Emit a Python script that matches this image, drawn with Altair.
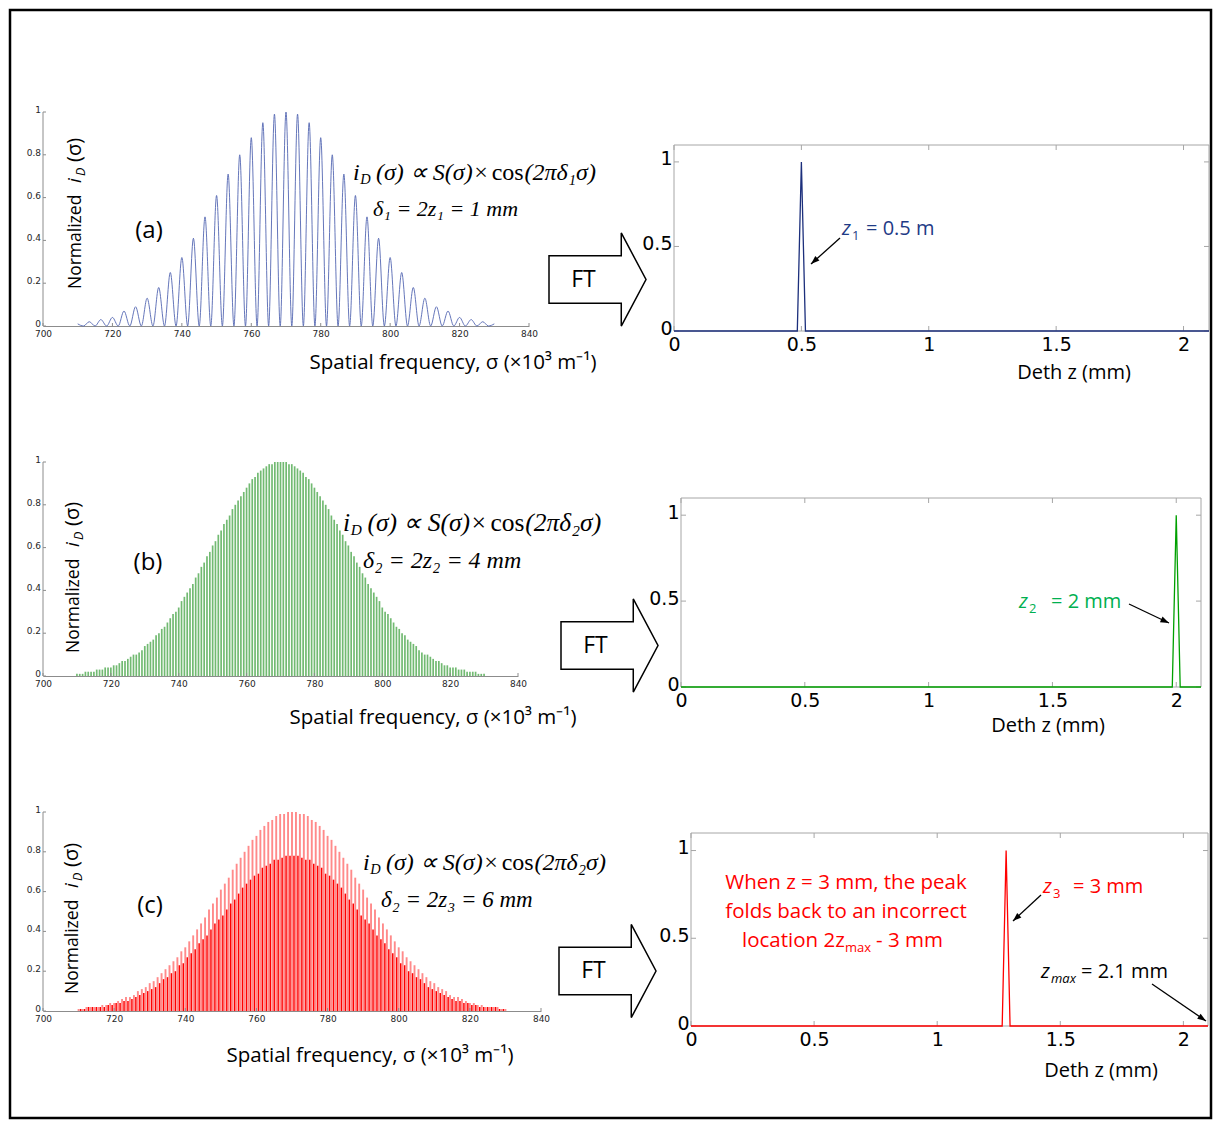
import altair as alt
import pandas as pd

# ---------------- data ----------------
sigma_ticks = [700, 720, 740, 760, 780, 800, 820, 840]
intensity_ticks = [0, 0.2, 0.4, 0.6, 0.8, 1]
intensity_labels = ["0", "0.2", "0.4", "0.6", "0.8", "1"]
depth_ticks = [0, 0.5, 1, 1.5, 2]
amp_ticks = [0, 0.5, 1]

# (a) delta = 1 mm : fringe peaks and troughs
a_sigma = [710.0, 711.67, 713.33, 715.0, 716.67, 718.33, 720.0, 721.67, 723.33, 725.0,
           726.67, 728.33, 730.0, 731.67, 733.33, 735.0, 736.67, 738.33, 740.0, 741.67,
           743.33, 745.0, 746.67, 748.33, 750.0, 751.67, 753.33, 755.0, 756.67, 758.33,
           760.0, 761.67, 763.33, 765.0, 766.67, 768.33, 770.0, 771.67, 773.33, 775.0,
           776.67, 778.33, 780.0, 781.67, 783.33, 785.0, 786.67, 788.33, 790.0, 791.67,
           793.33, 795.0, 796.67, 798.33, 800.0, 801.67, 803.33, 805.0, 806.67, 808.33,
           810.0, 811.67, 813.33, 815.0, 816.67, 818.33, 820.0, 821.67, 823.33, 825.0,
           826.67, 828.33, 830.0]
a_intensity = [0.01, 0, 0.02, 0, 0.03, 0, 0.04, 0, 0.07, 0, 0.09, 0, 0.13, 0, 0.18, 0,
               0.25, 0, 0.32, 0, 0.41, 0, 0.51, 0, 0.61, 0, 0.71, 0, 0.80, 0, 0.88, 0,
               0.95, 0, 0.99, 0, 1.00, 0, 0.99, 0, 0.95, 0, 0.88, 0, 0.80, 0, 0.71, 0,
               0.61, 0, 0.51, 0, 0.41, 0, 0.32, 0, 0.25, 0, 0.18, 0, 0.13, 0, 0.09, 0,
               0.07, 0, 0.04, 0, 0.03, 0, 0.02, 0, 0.01]

# (b) delta = 4 mm : fringe peaks
b_peak_sigma = [
    710.0, 710.83, 711.67, 712.5, 713.33, 714.17, 715.0, 715.83, 716.67, 717.5, 718.33, 719.17,
    720.0, 720.83, 721.67, 722.5, 723.33, 724.17, 725.0, 725.83, 726.67, 727.5, 728.33, 729.17,
    730.0, 730.83, 731.67, 732.5, 733.33, 734.17, 735.0, 735.83, 736.67, 737.5, 738.33, 739.17,
    740.0, 740.83, 741.67, 742.5, 743.33, 744.17, 745.0, 745.83, 746.67, 747.5, 748.33, 749.17,
    750.0, 750.83, 751.67, 752.5, 753.33, 754.17, 755.0, 755.83, 756.67, 757.5, 758.33, 759.17,
    760.0, 760.83, 761.67, 762.5, 763.33, 764.17, 765.0, 765.83, 766.67, 767.5, 768.33, 769.17,
    770.0, 770.83, 771.67, 772.5, 773.33, 774.17, 775.0, 775.83, 776.67, 777.5, 778.33, 779.17,
    780.0, 780.83, 781.67, 782.5, 783.33, 784.17, 785.0, 785.83, 786.67, 787.5, 788.33, 789.17,
    790.0, 790.83, 791.67, 792.5, 793.33, 794.17, 795.0, 795.83, 796.67, 797.5, 798.33, 799.17,
    800.0, 800.83, 801.67, 802.5, 803.33, 804.17, 805.0, 805.83, 806.67, 807.5, 808.33, 809.17,
    810.0, 810.83, 811.67, 812.5, 813.33, 814.17, 815.0, 815.83, 816.67, 817.5, 818.33, 819.17,
    820.0, 820.83, 821.67, 822.5, 823.33, 824.17, 825.0, 825.83, 826.67, 827.5, 828.33, 829.17,
    830.0]
b_peak_height = [
    0.01, 0.01, 0.01, 0.02, 0.02, 0.02, 0.02, 0.03, 0.03, 0.03, 0.04, 0.04,
    0.04, 0.05, 0.05, 0.06, 0.07, 0.07, 0.08, 0.09, 0.10, 0.10, 0.11, 0.12,
    0.14, 0.15, 0.16, 0.17, 0.19, 0.20, 0.22, 0.23, 0.25, 0.27, 0.29, 0.30,
    0.32, 0.35, 0.37, 0.39, 0.41, 0.43, 0.46, 0.48, 0.51, 0.53, 0.56, 0.58,
    0.61, 0.63, 0.66, 0.68, 0.71, 0.73, 0.75, 0.78, 0.80, 0.82, 0.84, 0.86,
    0.88, 0.90, 0.92, 0.93, 0.95, 0.96, 0.97, 0.98, 0.99, 0.99, 1.00, 1.00,
    1.00,
    1.00, 1.00, 0.99, 0.99, 0.98, 0.97, 0.96, 0.95, 0.93, 0.92, 0.90, 0.88,
    0.86, 0.84, 0.82, 0.80, 0.78, 0.75, 0.73, 0.71, 0.68, 0.66, 0.63, 0.61,
    0.58, 0.56, 0.53, 0.51, 0.48, 0.46, 0.43, 0.41, 0.39, 0.37, 0.35, 0.32,
    0.30, 0.29, 0.27, 0.25, 0.23, 0.22, 0.20, 0.19, 0.17, 0.16, 0.15, 0.14,
    0.12, 0.11, 0.10, 0.10, 0.09, 0.08, 0.07, 0.07, 0.06, 0.05, 0.05, 0.04,
    0.04, 0.04, 0.03, 0.03, 0.03, 0.02, 0.02, 0.02, 0.02, 0.01, 0.01, 0.01]

# (c) delta = 6 mm : aliased fringes, tall (light) and short (dark) peaks
c_full_sigma = [
    710.0, 711.11, 712.22, 713.33, 714.44, 715.56, 716.67, 717.78, 718.89,
    720.0, 721.11, 722.22, 723.33, 724.44, 725.56, 726.67, 727.78, 728.89,
    730.0, 731.11, 732.22, 733.33, 734.44, 735.56, 736.67, 737.78, 738.89,
    740.0, 741.11, 742.22, 743.33, 744.44, 745.56, 746.67, 747.78, 748.89,
    750.0, 751.11, 752.22, 753.33, 754.44, 755.56, 756.67, 757.78, 758.89,
    760.0, 761.11, 762.22, 763.33, 764.44, 765.56, 766.67, 767.78, 768.89,
    770.0, 771.11, 772.22, 773.33, 774.44, 775.56, 776.67, 777.78, 778.89,
    780.0, 781.11, 782.22, 783.33, 784.44, 785.56, 786.67, 787.78, 788.89,
    790.0, 791.11, 792.22, 793.33, 794.44, 795.56, 796.67, 797.78, 798.89,
    800.0, 801.11, 802.22, 803.33, 804.44, 805.56, 806.67, 807.78, 808.89,
    810.0, 811.11, 812.22, 813.33, 814.44, 815.56, 816.67, 817.78, 818.89,
    820.0, 821.11, 822.22, 823.33, 824.44, 825.56, 826.67, 827.78, 828.89,
    830.0]
c_full_height = [
    0.01, 0.01, 0.02, 0.02, 0.02, 0.02, 0.03, 0.03, 0.04,
    0.04, 0.05, 0.06, 0.07, 0.07, 0.08, 0.10, 0.11, 0.12,
    0.14, 0.15, 0.17, 0.19, 0.21, 0.23, 0.25, 0.27, 0.30,
    0.32, 0.35, 0.38, 0.41, 0.44, 0.47, 0.51, 0.54, 0.57,
    0.61, 0.64, 0.67, 0.71, 0.74, 0.77, 0.80, 0.83, 0.86,
    0.88, 0.91, 0.93, 0.95, 0.96, 0.98, 0.99, 0.99, 1.00,
    1.00,
    1.00, 0.99, 0.99, 0.98, 0.96, 0.95, 0.93, 0.91, 0.88,
    0.86, 0.83, 0.80, 0.77, 0.74, 0.71, 0.67, 0.64, 0.61,
    0.57, 0.54, 0.51, 0.47, 0.44, 0.41, 0.38, 0.35, 0.32,
    0.30, 0.27, 0.25, 0.23, 0.21, 0.19, 0.17, 0.15, 0.14,
    0.12, 0.11, 0.10, 0.08, 0.07, 0.07, 0.06, 0.05, 0.04,
    0.04, 0.03, 0.03, 0.02, 0.02, 0.02, 0.02, 0.01, 0.01]
c_inner_sigma = [
    710.56, 711.67, 712.78, 713.89, 715.0, 716.11, 717.22, 718.33, 719.44,
    720.56, 721.67, 722.78, 723.89, 725.0, 726.11, 727.22, 728.33, 729.44,
    730.56, 731.67, 732.78, 733.89, 735.0, 736.11, 737.22, 738.33, 739.44,
    740.56, 741.67, 742.78, 743.89, 745.0, 746.11, 747.22, 748.33, 749.44,
    750.56, 751.67, 752.78, 753.89, 755.0, 756.11, 757.22, 758.33, 759.44,
    760.56, 761.67, 762.78, 763.89, 765.0, 766.11, 767.22, 768.33, 769.44,
    770.56, 771.67, 772.78, 773.89, 775.0, 776.11, 777.22, 778.33, 779.44,
    780.56, 781.67, 782.78, 783.89, 785.0, 786.11, 787.22, 788.33, 789.44,
    790.56, 791.67, 792.78, 793.89, 795.0, 796.11, 797.22, 798.33, 799.44,
    800.56, 801.67, 802.78, 803.89, 805.0, 806.11, 807.22, 808.33, 809.44,
    810.56, 811.67, 812.78, 813.89, 815.0, 816.11, 817.22, 818.33, 819.44,
    820.56, 821.67, 822.78, 823.89, 825.0, 826.11, 827.22, 828.33, 829.44]
c_inner_height = [
    0.01, 0.01, 0.02, 0.02, 0.02, 0.02, 0.02, 0.03, 0.03,
    0.04, 0.04, 0.05, 0.05, 0.06, 0.07, 0.08, 0.09, 0.10,
    0.11, 0.12, 0.14, 0.16, 0.17, 0.19, 0.20, 0.23, 0.24,
    0.27, 0.29, 0.31, 0.34, 0.36, 0.38, 0.41, 0.44, 0.46,
    0.48, 0.51, 0.54, 0.56, 0.59, 0.62, 0.64, 0.66, 0.68,
    0.69, 0.72, 0.73, 0.74, 0.76, 0.76, 0.77, 0.78, 0.78,
    0.78, 0.78, 0.77, 0.76, 0.76, 0.74, 0.73, 0.72, 0.69,
    0.68, 0.66, 0.64, 0.62, 0.59, 0.56, 0.54, 0.51, 0.48,
    0.46, 0.44, 0.41, 0.38, 0.36, 0.34, 0.31, 0.29, 0.27,
    0.24, 0.23, 0.20, 0.19, 0.17, 0.16, 0.14, 0.12, 0.11,
    0.10, 0.09, 0.08, 0.07, 0.06, 0.05, 0.05, 0.04, 0.04,
    0.03, 0.03, 0.02, 0.02, 0.02, 0.02, 0.02, 0.01, 0.01]

# Fourier transforms (depth in mm, normalized amplitude)
ft_a_depth = [0.0, 0.484, 0.492, 0.5, 0.508, 0.516, 2.1]
ft_a_amp = [0.0, 0.0, 0.5, 1.0, 0.5, 0.0, 0.0]
ft_b_depth = [0.0, 1.984, 1.992, 2.0, 2.008, 2.016, 2.1]
ft_b_amp = [0.0, 0.0, 0.5, 1.0, 0.5, 0.0, 0.0]
ft_c_depth = [0.0, 1.264, 1.272, 1.28, 1.288, 1.296, 2.1]
ft_c_amp = [0.0, 0.0, 0.5, 1.0, 0.5, 0.0, 0.0]

assert len(a_sigma) == len(a_intensity) == 73
assert len(b_peak_sigma) == len(b_peak_height) == 145
assert len(c_full_sigma) == len(c_full_height) == 109
assert len(c_inner_sigma) == len(c_inner_height) == 108

# ---------------- styling ----------------
SANS = "Open Sans"
SERIF = "Liberation Serif"
TICKF = "DejaVu Sans"
AXIS_GREY = "#8c8c8c"
FRAME_GREY = "#a6a6a6"
BLUE_LINE = "#5467b2"
GREEN = "#148c14"
RED = "#ff0000"
LIGHT_RED = "#ff8a8a"
NAVY = "#1c2f7c"
NAVY_TEXT = "#1f3b86"
GREEN_LINE = "#00a000"
GREEN_TEXT = "#00b050"

ONE = pd.DataFrame({"k": [0]})
XT = "Spatial frequency, σ (×10³ m⁻¹)"


def txt(s, x, y, size, font=SANS, color="black", style="normal", align="left",
        baseline="alphabetic", angle=0):
    return alt.Chart(ONE).mark_text(
        text=s, font=font, fontSize=size, color=color, fontStyle=style,
        align=align, baseline=baseline, angle=angle
    ).encode(x=alt.value(x), y=alt.value(y))


def arrow(x1, y1, x2, y2, angle):
    line = alt.Chart(ONE).mark_rule(color="black", strokeWidth=1.3).encode(
        x=alt.value(x1), y=alt.value(y1), x2=alt.value(x2), y2=alt.value(y2))
    head = alt.Chart(ONE).mark_point(
        shape="M0,0L-0.5,1.4L0.5,1.4Z", filled=True, color="black", opacity=1,
        size=150, angle=angle
    ).encode(x=alt.value(x2), y=alt.value(y2))
    return [line, head]


FT_PATH = "M-1,-0.49L0.49,-0.49L0.49,-0.96L1,0L0.49,0.96L0.49,0.49L-1,0.49Z"


def ft_arrow(cx, cy):
    shape = alt.Chart(ONE).mark_point(
        shape=FT_PATH, size=9409, filled=True, fill="white", stroke="black",
        strokeWidth=1.5, opacity=1
    ).encode(x=alt.value(cx), y=alt.value(cy))
    return [shape, txt("FT", cx - 14, cy, 23, align="center", baseline="middle")]


# ---- encodings (identical axis definitions in every layer so that they merge) ----
def lx(field):
    axis = alt.Axis(values=sigma_ticks, format="d", title=None, grid=False,
                    domainColor=AXIS_GREY, ticks=False, labelFont=TICKF,
                    labelFontSize=9, labelColor="#262626", labelPadding=3,
                    labelFlush=False, labelOverlap=False)
    return alt.X(f"{field}:Q", scale=alt.Scale(domain=[700, 840], nice=False, zero=False),
                 axis=axis)


def ly(field, top):
    axis = alt.Axis(values=intensity_ticks, title=None, grid=False, domain=False,
                    ticks=False, labels=False)
    return alt.Y(f"{field}:Q", scale=alt.Scale(domain=[0, top], nice=False), axis=axis)


def rx(field, lo):
    axis = alt.Axis(values=depth_ticks, format="~g", title=None, grid=False,
                    domain=False, ticks=False, labelFont=TICKF, labelFontSize=19,
                    labelColor="black", labelPadding=4, labelFlush=False,
                    labelOverlap=False)
    return alt.X(f"{field}:Q", scale=alt.Scale(domain=[lo, 2.1], nice=False, zero=False),
                 axis=axis)


def ry(field, top, shift):
    axis = alt.Axis(values=amp_ticks, format="~g", title=None, grid=False,
                    domain=False, ticks=False, labelFont=TICKF, labelFontSize=19,
                    labelColor="black", labelPadding=2, offset=-shift,
                    labelOffset=-3, labelOverlap=False)
    return alt.Y(f"{field}:Q", scale=alt.Scale(domain=[0, top], nice=False), axis=axis)


def left_frame(h, top):
    tdf = pd.DataFrame({"t": intensity_ticks, "lab": intensity_labels})
    tx = alt.Chart(pd.DataFrame({"t": sigma_ticks})).mark_rule(color=AXIS_GREY).encode(
        x=lx("t"), y=alt.value(h), y2=alt.value(h - 3))
    ty = alt.Chart(tdf).mark_rule(color=AXIS_GREY).encode(
        y=ly("t", top), x=alt.value(0), x2=alt.value(3))
    ylab = alt.Chart(tdf).mark_text(
        align="right", baseline="middle", font=TICKF, fontSize=9, color="#262626",
        dx=-2, dy=-2
    ).encode(y=ly("t", top), x=alt.value(0), text="lab:N")
    yline = alt.Chart(ONE).mark_rule(color=AXIS_GREY).encode(
        x=alt.value(0), y=alt.datum(0), y2=alt.datum(1))
    return [tx, ty, ylab, yline]


def right_frame(lo, top, shift):
    xt = pd.DataFrame({"t": depth_ticks})
    yt = pd.DataFrame({"t": amp_ticks})
    X = rx("t", lo)
    Y = ry("t", top, shift)
    box = alt.Chart(ONE).mark_rect(filled=False, stroke=FRAME_GREY, strokeWidth=1).encode(
        x=alt.datum(0), x2=alt.datum(2.1), y=alt.datum(0), y2=alt.datum(1.1))
    return [
        box,
        alt.Chart(xt).mark_rule(color=FRAME_GREY, y2Offset=5).encode(
            x=X, y=alt.datum(1.1), y2=alt.datum(1.1)),
        alt.Chart(xt).mark_rule(color=FRAME_GREY, y2Offset=-5).encode(
            x=X, y=alt.datum(0), y2=alt.datum(0)),
        alt.Chart(yt).mark_rule(color=FRAME_GREY, x2Offset=5).encode(
            y=Y, x=alt.datum(0), x2=alt.datum(0)),
        alt.Chart(yt).mark_rule(color=FRAME_GREY, x2Offset=-5).encode(
            y=Y, x=alt.datum(2.1), x2=alt.datum(2.1)),
    ]


def ytitle(xb, y0):
    return [
        txt("Normalized", xb, y0, 17.5, angle=270),
        txt("i", xb, y0 - 106, 19, style="italic", angle=270),
        txt("D", xb + 4, y0 - 113, 12.5, style="italic", angle=270),
        txt("(σ)", xb, y0 - 127, 20, angle=270),
    ]


def equation(x0, y0, s, sub, x2, y2, line2, s2):
    return [
        txt("i", x0, y0, s, SERIF, style="italic", baseline="middle"),
        txt("D", x0 + 0.3 * s, y0 + 0.28 * s, 0.6 * s, SERIF, style="italic", baseline="middle"),
        txt("(σ) ∝ S(σ)×", x0 + 0.96 * s, y0, s, SERIF, style="italic", baseline="middle"),
        txt("cos", x0 + 5.78 * s, y0, s, SERIF, baseline="middle"),
        txt("(2πδ" + sub + "σ)", x0 + 7.15 * s, y0, s, SERIF, style="italic", baseline="middle"),
        txt(line2, x2, y2, s2, SERIF, style="italic", baseline="middle"),
    ]


# ---------------- left panels ----------------
df_a = pd.DataFrame({"sigma": a_sigma, "i": a_intensity})
df_b = pd.DataFrame({"sigma": b_peak_sigma, "i": b_peak_height})
df_cf = pd.DataFrame({"sigma": c_full_sigma, "i": c_full_height})
df_ci = pd.DataFrame({"sigma": c_inner_sigma, "i": c_inner_height})

border = alt.Chart(ONE).mark_rect(filled=False, stroke="black", strokeWidth=2.5).encode(
    x=alt.value(-33), x2=alt.value(1168), y=alt.value(-102), y2=alt.value(1006))

# A-left: 486 x 214, y domain 0..1
curve_a = alt.Chart(df_a).mark_line(color=BLUE_LINE, strokeWidth=0.9, interpolate="monotone").encode(
    x=lx("sigma"), y=ly("i", 1))
A_left = alt.layer(
    border, curve_a, *left_frame(214, 1),
    txt("(a)", 106, 119, 24, align="center", baseline="middle"),
    *ytitle(38, 177),
    *equation(310, 61, 24, "₁", 330, 97, "δ₁ = 2z₁ = 1 mm", 22),
    txt(XT, 410, 251, 20.5, align="center", baseline="middle"),
).properties(width=486, height=214)

# B-left: 475 x 220 (plot starts 6 px below the row top)
TB = 220 / 214
oyb = 6
curve_b = alt.Chart(df_b).mark_rule(color=GREEN, strokeWidth=1.7, opacity=0.6).encode(
    x=lx("sigma"), y=ly("i", TB), y2=alt.datum(0))
B_left = alt.layer(
    curve_b, *left_frame(220, TB),
    txt("(b)", 105, 101 + oyb, 24, align="center", baseline="middle"),
    *ytitle(36, 191 + oyb),
    *equation(300, 61 + oyb, 25.5, "₂", 320, 99 + oyb, "δ₂ = 2z₂ = 4 mm", 24),
    txt(XT, 390, 256 + oyb, 20.5, align="center", baseline="middle"),
).properties(width=475, height=220)

# C-left: 498 x 199
curve_cf = alt.Chart(df_cf).mark_rule(color=LIGHT_RED, strokeWidth=1.9).encode(
    x=lx("sigma"), y=ly("i", 1), y2=alt.datum(0))
curve_ci = alt.Chart(df_ci).mark_rule(color=RED, strokeWidth=1.5).encode(
    x=lx("sigma"), y=ly("i", 1), y2=alt.datum(0))
C_left = alt.layer(
    curve_cf, curve_ci, *left_frame(199, 1),
    txt("(c)", 107, 94, 24, align="center", baseline="middle"),
    *ytitle(35, 182),
    *equation(320, 51, 24, "₂", 338, 88, "δ₂ = 2z₃ = 6 mm", 23),
    txt(XT, 327, 244, 20.5, align="center", baseline="middle"),
).properties(width=498, height=199)

# ---------------- right panels ----------------
df_fa = pd.DataFrame({"z": ft_a_depth, "a": ft_a_amp})
df_fb = pd.DataFrame({"z": ft_b_depth, "a": ft_b_amp})
df_fc = pd.DataFrame({"z": ft_c_depth, "a": ft_c_amp})

# A-right: frame 535 x 186 starting 33 px below the row top
ox, oy = 0, 33
TA = 1.1 * 219 / 186
A_right = alt.layer(
    *right_frame(0, TA, 0),
    alt.Chart(df_fa).mark_line(color=NAVY, strokeWidth=1.3).encode(x=rx("z", 0), y=ry("a", TA, 0)),
    *ft_arrow(-76.5 + ox, 134.5 + oy),
    txt("z", 168 + ox, 90 + oy, 20, color=NAVY_TEXT, style="italic"),
    txt("1", 178 + ox, 95 + oy, 13, color=NAVY_TEXT),
    txt("= 0.5 m", 192 + ox, 90 + oy, 20, color=NAVY_TEXT),
    *arrow(166 + ox, 93 + oy, 137 + ox, 119 + oy, 228),
    txt("Deth z (mm)", 400 + ox, 234 + oy, 20, align="center"),
).properties(width=535, height=219)

# B-right: frame 520 x 189, 7 px right and 42 px below the cell corner
ox, oy = 7, 42
LB = -7 / (520 / 2.1)
TBR = 1.1 * 231 / 189
B_right = alt.layer(
    *right_frame(LB, TBR, 7),
    alt.Chart(df_fb).mark_line(color=GREEN_LINE, strokeWidth=1.3).encode(x=rx("z", LB), y=ry("a", TBR, 7)),
    *ft_arrow(-71.5 + ox, 147.5 + oy),
    txt("z", 338 + ox, 110 + oy, 20, color=GREEN_TEXT, style="italic"),
    txt("2", 348 + ox, 115 + oy, 13, color=GREEN_TEXT),
    txt("= 2 mm", 370 + ox, 110 + oy, 20, color=GREEN_TEXT),
    *arrow(448 + ox, 106 + oy, 488 + ox, 125 + oy, 115),
    txt("Deth z (mm)", 367 + ox, 234 + oy, 20, align="center"),
).properties(width=527, height=231)

# C-right: frame 517 x 193, 17 px right and 21 px below the cell corner
ox, oy = 17, 21
LC = -17 / (517 / 2.1)
TC = 1.1 * 214 / 193
C_right = alt.layer(
    *right_frame(LC, TC, 17),
    alt.Chart(df_fc).mark_line(color=RED, strokeWidth=1.3).encode(x=rx("z", LC), y=ry("a", TC, 17)),
    *ft_arrow(-83.5 + ox, 138 + oy),
    txt("When z = 3 mm, the peak", 155 + ox, 56 + oy, 20.5, color=RED, align="center"),
    txt("folds back to an incorrect", 155 + ox, 85 + oy, 20.5, color=RED, align="center"),
    txt("location 2z", 51 + ox, 114 + oy, 20.5, color=RED),
    txt("max", 154 + ox, 119 + oy, 13, color=RED),
    txt("- 3 mm", 185 + ox, 114 + oy, 20.5, color=RED),
    txt("z", 352 + ox, 60 + oy, 20, color=RED, style="italic"),
    txt("3", 362 + ox, 65 + oy, 13, color=RED),
    txt("= 3 mm", 382 + ox, 60 + oy, 20, color=RED),
    *arrow(350 + ox, 62 + oy, 322 + ox, 88 + oy, 227),
    txt("z", 350 + ox, 145 + oy, 20, style="italic"),
    txt("max", 360 + ox, 150 + oy, 13, style="italic"),
    txt("= 2.1 mm", 390 + ox, 145 + oy, 20),
    *arrow(461 + ox, 151 + oy, 515 + ox, 188 + oy, 124),
    txt("Deth z (mm)", 410 + ox, 244 + oy, 20, align="center"),
).properties(width=534, height=214)

chart = alt.concat(
    A_left, A_right, B_left, B_right, C_left, C_right,
    columns=2, spacing={"row": 125, "column": 133}, bounds="flush",
    padding=0, background="white",
).configure_view(strokeWidth=0)

chart.save("out.html", embed_options={"renderer": "svg", "actions": False})
